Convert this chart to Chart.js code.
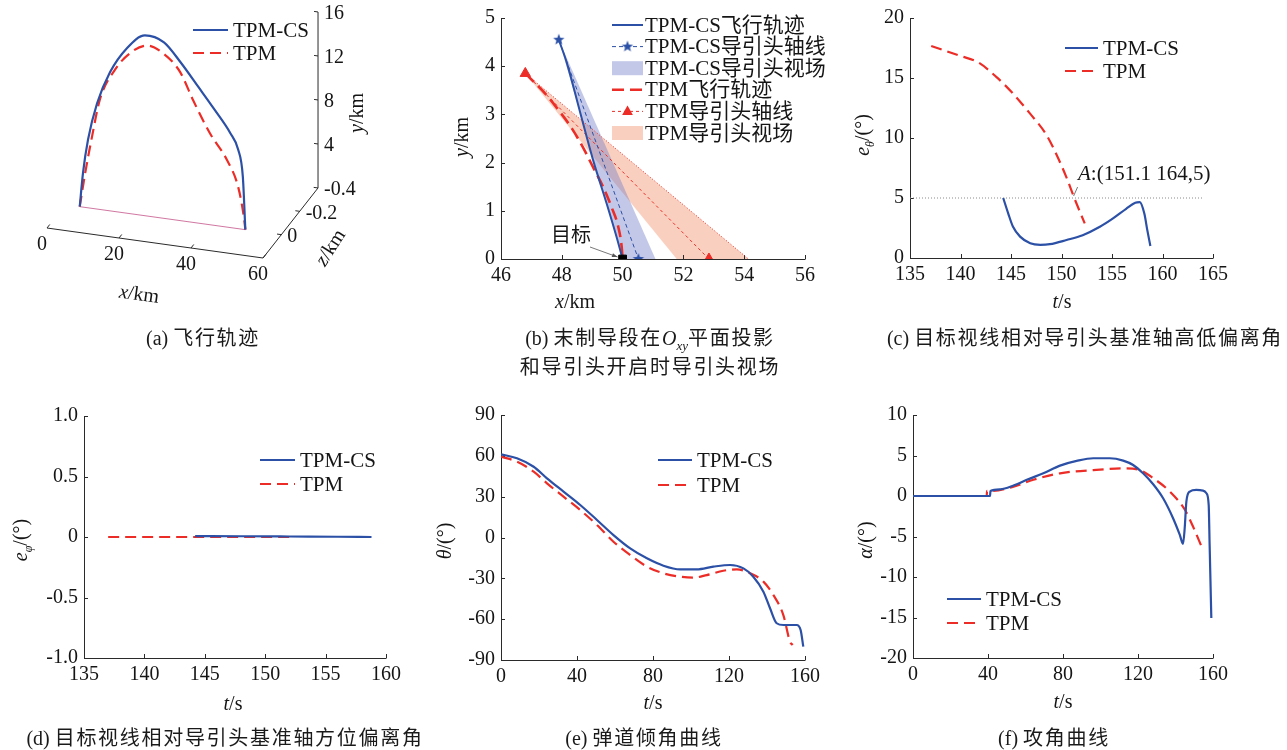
<!DOCTYPE html>
<html>
<head>
<meta charset="utf-8">
<script src="https://cdn.jsdelivr.net/npm/chart.js@4.4.0/dist/chart.umd.min.js"></script>
<style>
  body { margin: 0; background: #fff; }
  #page { position: relative; width: 1287px; height: 750px; overflow: hidden; background: #fff; }
  #page canvas { position: absolute; left: 0; top: 0; }
  .cap { position: absolute; font: 20px "Liberation Serif", "Noto Sans CJK SC", serif; letter-spacing: 1.7px;
         white-space: nowrap; transform: translate(-50%, -50%); color: #1a1a1a; line-height: 29px; text-align: center; }
  .cap .l { letter-spacing: 0; }
  .cap sub { font-size: 13px; vertical-align: -5px; letter-spacing: 0; line-height: 0; }
</style>
</head>
<body>
<div id="page">
  <canvas id="cA" width="1287" height="750"></canvas>
  <canvas id="cB" width="1287" height="750"></canvas>
  <canvas id="cC" width="1287" height="750"></canvas>
  <canvas id="cD" width="1287" height="750"></canvas>
  <canvas id="cE" width="1287" height="750"></canvas>
  <canvas id="cF" width="1287" height="750"></canvas>
  <div class="cap" style="left:203px;top:338px"><span class="l">(a) </span>飞行轨迹</div>
  <div class="cap" style="left:650px;top:353px"><span class="l">(b) </span>末制导段在<i class="l">O</i><sub><i>xy</i></sub>平面投影<br>和导引头开启时导引头视场</div>
  <div class="cap" style="left:1085px;top:338px"><span class="l">(c) </span>目标视线相对导引头基准轴高低偏离角</div>
  <div class="cap" style="left:225px;top:738px"><span class="l">(d) </span>目标视线相对导引头基准轴方位偏离角</div>
  <div class="cap" style="left:644px;top:738px"><span class="l">(e) </span>弹道倾角曲线</div>
  <div class="cap" style="left:1054px;top:738px"><span class="l">(f) </span>攻角曲线</div>
</div>
<script>
// ---- (a) flight trajectory, x/km and y/km (z = 0) ----
const trajX_CS  = [4, 4.9, 6.3, 8.8, 12.4, 17.1, 22.1, 27.4, 32, 36.9, 41.5, 45.8, 48, 49.3, 50];
const trajY_CS  = [0, 3.1, 6.2, 9.6, 12.6, 15.0, 16.4, 16.0, 14.4, 12.4, 10.5, 8.6, 7.2, 4.8, 0];
const trajX_TPM = [4, 5.5, 7.4, 9.6, 13.8, 18.0, 22.7, 27.1, 31.9, 35.5, 40.2, 44.9, 48.0, 49.6, 50];
const trajY_TPM = [0, 3.1, 6.5, 10.0, 12.9, 14.6, 15.5, 15.0, 13.5, 11.1, 8.3, 6.1, 3.8, 1.1, 0];
const ticksA_x = [0, 20, 40, 60];
const ticksA_y = [4, 8, 12, 16];
const ticksA_z = [0, -0.2, -0.4];

// ---- (b) terminal phase in Oxy plane ----
const termX_CS  = [47.9, 48.16, 48.6, 49.04, 49.48, 49.8, 50];
const termY_CS  = [4.55, 4.08, 3.05, 2.03, 1.14, 0.46, 0];
const termX_TPM = [46.8, 47.5, 47.94, 48.33, 48.71, 49.04, 49.37, 49.64, 49.86, 49.97, 50];
const termY_TPM = [3.85, 3.4, 3.05, 2.71, 2.30, 1.89, 1.48, 1.07, 0.66, 0.25, 0];
const axisX_CS  = [47.9, 50.52], axisY_CS = [4.55, 0];
const axisX_TPM = [46.8, 52.84], axisY_TPM = [3.85, 0];
const fovX_CS   = [47.9, 50.0, 51.08], fovY_CS = [4.55, 0, 0];
const fovX_TPM  = [46.8, 51.78, 54.14], fovY_TPM = [3.85, 0, 0];
const targetXY  = [50, 0];

// ---- (c) e_theta ----
const tC_CS  = [144.23, 144.73, 145.2, 145.9, 146.9, 147.9, 148.85, 150.5, 152.1, 153.8, 155.1, 156.4, 157.3, 157.75, 158.2, 158.5, 158.8];
const eC_CS  = [5.0, 3.7, 2.6, 1.78, 1.23, 1.1, 1.15, 1.5, 1.9, 2.6, 3.3, 4.1, 4.6, 4.65, 3.7, 2.3, 1.0];
const tC_TPM = [137.1, 139.95, 141.76, 143.57, 145.2, 146.87, 148.5, 149.5, 150.5, 151.3, 152.3];
const eC_TPM = [17.67, 16.85, 16.3, 15.07, 13.7, 12.05, 10.27, 8.63, 6.7, 4.93, 2.88];
const limitC = [135, 164, 5];   // dotted limit line: from t, to t, value

// ---- (d) e_phi ----
const tD_CS  = [144.2, 148, 152, 156, 158.8];
const eD_CS  = [0.008, 0.006, 0.004, 0.002, 0];
const tD_TPM = [137, 152];
const eD_TPM = [0, 0];

// ---- (e) theta ----
const tE_CS  = [0, 8.4, 17.2, 24.2, 32.9, 41.7, 50.5, 59.2, 68, 76.8, 85.5, 94.3, 103, 111.8, 120.6, 127.6, 132.8, 138.1, 141.6, 145.1, 148.6, 155.6, 157.7, 159.1];
const vE_CS  = [61.1, 58.2, 52, 43.5, 33.7, 23.9, 12.9, 1.8, -8, -15.3, -20.7, -23.4, -23.4, -21.4, -20.2, -22.7, -28.8, -39.8, -52, -63, -64.3, -64.3, -68, -80.2];
const tE_TPM = [0, 8.4, 17.2, 24.2, 32.9, 41.7, 50.5, 59.2, 68, 76.8, 85.5, 94.3, 101.3, 108.3, 117, 124.1, 131.1, 138.1, 143.4, 148.6, 152.1, 153.5];
const vE_TPM = [59.4, 55.7, 48.4, 39.8, 30, 20.2, 9.2, -3.1, -12.9, -21.4, -26.3, -28.8, -29.5, -27.6, -24.4, -23.4, -26.3, -32.4, -42.3, -57, -76.5, -79];

// ---- (f) alpha ----
const tF_CS  = [0, 41.1, 41.3, 46.5, 53.6, 60.7, 69.5, 78.4, 87.3, 96.1, 105, 112.1, 117.4, 122.7, 128.1, 133.4, 138.7, 142.3, 144, 144.9, 145.8, 147.6, 151.1, 154.7, 156.5, 157.7, 158.2, 159.1];
const vF_CS  = [0, 0, 0.63, 0.83, 1.29, 2.0, 2.8, 3.75, 4.33, 4.66, 4.66, 4.37, 3.83, 2.8, 1.45, -0.28, -2.74, -4.8, -5.9, -4.0, -0.69, 0.55, 0.75, 0.67, 0.34, -1.1, -6.0, -15.07];
const tF_TPM = [0, 39.3, 39.5, 42.9, 53.6, 64.2, 78.4, 96.1, 113.9, 121, 128.1, 137, 145, 149.4, 153.8];
const vF_TPM = [0, 0, 0.63, 0.63, 1.16, 2.0, 2.8, 3.2, 3.42, 3.2, 2.2, 0.55, -1.7, -3.8, -6.2];

const SERIF = '"Liberation Serif", "Noto Sans CJK SC", serif';
const BLUE = '#2b50a6', RED = '#ec2d27', AXIS = '#2a2a2a', INK = '#151515';
const W = 1287, H = 750, XH = 30, YW = 60;
const DASH = [11, 6];

Chart.defaults.font.family = SERIF;

function pts(xs, ys) { return xs.map((x, i) => ({ x, y: ys[i] })); }

function makeStar(color, R) {
  const c = document.createElement('canvas');
  c.width = c.height = 2 * R + 2;
  const g = c.getContext('2d');
  g.fillStyle = color;
  g.beginPath();
  for (let k = 0; k < 10; k++) {
    const r = k % 2 ? R * 0.42 : R;
    const a = -Math.PI / 2 + k * Math.PI / 5;
    g.lineTo(R + 1 + r * Math.cos(a), R + 1 + r * Math.sin(a));
  }
  g.closePath(); g.fill();
  return c;
}
const starImg = makeStar(BLUE, 6);

/** text with italic / subscript runs */
function richText(ctx, parts, x, y, rot, size, align) {
  ctx.save();
  ctx.translate(x, y); ctx.rotate(rot || 0);
  const fontOf = p => `${p.i ? 'italic ' : ''}${p.sub ? Math.round(size * 0.62) : size}px ${SERIF}`;
  let w = 0;
  parts.forEach(p => { ctx.font = fontOf(p); w += ctx.measureText(p.t).width; });
  let cx = align === 'left' ? 0 : -w / 2;
  ctx.textBaseline = 'middle'; ctx.textAlign = 'left'; ctx.fillStyle = INK;
  parts.forEach(p => {
    ctx.font = fontOf(p);
    ctx.fillText(p.t, cx, p.sub ? size * 0.32 : 0);
    cx += ctx.measureText(p.t).width;
  });
  ctx.restore();
}

function drawTriangle(ctx, x, y, r, color) {
  ctx.save(); ctx.fillStyle = color; ctx.beginPath();
  ctx.moveTo(x, y - r); ctx.lineTo(x + r * 0.9, y + r * 0.6); ctx.lineTo(x - r * 0.9, y + r * 0.6);
  ctx.closePath(); ctx.fill(); ctx.restore();
}

/** legend drawn at fixed page spots */
function drawLegend(ctx, lg) {
  lg.items.forEach((it, k) => {
    const y = lg.y + k * lg.dy;
    ctx.save();
    if (it.box) {
      ctx.fillStyle = it.box;
      ctx.fillRect(lg.x0, y - 7, lg.x1 - lg.x0, 14);
    } else {
      ctx.strokeStyle = it.color; ctx.lineWidth = it.width; ctx.setLineDash(it.dash || []);
      ctx.beginPath(); ctx.moveTo(lg.x0, y); ctx.lineTo(lg.x1, y); ctx.stroke();
    }
    const mx = (lg.x0 + lg.x1) / 2;
    if (it.marker === 'star') ctx.drawImage(starImg, mx - starImg.width / 2, y - starImg.height / 2);
    if (it.marker === 'tri') drawTriangle(ctx, mx, y, 6, it.color);
    ctx.restore();
    ctx.save();
    ctx.font = `${lg.size || 21}px ${SERIF}`; ctx.fillStyle = INK;
    ctx.textBaseline = 'middle'; ctx.textAlign = 'left';
    ctx.fillText(it.label, lg.tx, y + 1);
    ctx.restore();
  });
}

const legendPair = (x0, x1, y, dy) => ({
  x0, x1, tx: x1 + 5, y, dy,
  items: [
    { label: 'TPM-CS', color: BLUE, width: 2.2 },
    { label: 'TPM', color: RED, width: 2.2, dash: DASH }
  ]
});

/** axis lines + inward ticks, titles, legend, extras */
function decor(cfg) {
  return {
    id: 'decor',
    beforeDatasetsDraw(chart) {
      const { ctx, chartArea: a, scales: { x, y } } = chart;
      if (cfg.under) cfg.under(chart);
      ctx.save();
      ctx.strokeStyle = AXIS; ctx.lineWidth = 1;
      ctx.beginPath();
      ctx.moveTo(a.left + 0.5, a.top); ctx.lineTo(a.left + 0.5, a.bottom + 0.5); ctx.lineTo(a.right + 0.5, a.bottom + 0.5);
      x.ticks.forEach(t => {
        const px = Math.round(x.getPixelForValue(t.value)) + 0.5;
        ctx.moveTo(px, a.bottom); ctx.lineTo(px, a.bottom - 4);
      });
      y.ticks.forEach(t => {
        const py = Math.round(y.getPixelForValue(t.value)) + 0.5;
        ctx.moveTo(a.left, py); ctx.lineTo(a.left + 4, py);
      });
      ctx.stroke(); ctx.restore();
    },
    afterDatasetsDraw(chart) {
      const ctx = chart.ctx;
      if (cfg.over) cfg.over(chart);
      if (cfg.legend) drawLegend(ctx, cfg.legend);
      richText(ctx, cfg.xTitle.parts, cfg.xTitle.x, cfg.xTitle.y, 0, 20);
      richText(ctx, cfg.yTitle.parts, cfg.yTitle.x, cfg.yTitle.y, -Math.PI / 2, 20);
    }
  };
}

function lineSet(data, color, width, dash) {
  return { data, borderColor: color, borderWidth: width, borderDash: dash || [], showLine: true,
           pointRadius: 0, cubicInterpolationMode: 'monotone', fill: false };
}

function panel(id, area, xr, yr, datasets, cfg) {
  const tickFont = { family: SERIF, size: 20 };
  return new Chart(document.getElementById(id), {
    type: 'scatter',
    data: { datasets },
    options: {
      responsive: false, animation: false, devicePixelRatio: 1,
      layout: { padding: { left: area.l - YW, top: area.t, right: W - area.r, bottom: H - area.b - XH } },
      scales: {
        x: { type: 'linear', min: xr[0], max: xr[1],
             ticks: { stepSize: xr[2], font: tickFont, color: INK, padding: 5, maxRotation: 0, autoSkip: false,
                      callback: v => String(v) },
             grid: { display: false, drawTicks: false }, border: { display: false },
             afterFit: s => { s.height = XH; } },
        y: { type: 'linear', min: yr[0], max: yr[1],
             ticks: { stepSize: yr[2], font: tickFont, color: INK, padding: 6, autoSkip: false,
                      callback: cfg.yFmt || (v => String(v)) },
             grid: { display: false, drawTicks: false }, border: { display: false },
             afterFit: s => { s.width = YW; } }
      },
      plugins: { legend: { display: false }, tooltip: { enabled: false } }
    },
    plugins: [decor(cfg)]
  });
}

const tsTitle = (x, y) => ({ x, y, parts: [{ t: 't', i: true }, { t: '/s' }] });

// ---------------- (a) 3D trajectory ----------------
function proj(x, y, z) {
  return { x: 47 + 3.6 * x - 91.7 * (z - 0.2), y: 228 + 0.5 * x + 116.7 * (z - 0.2) - 11 * y };
}
const axes3d = {
  id: 'axes3d',
  beforeDatasetsDraw(chart) {
    const ctx = chart.ctx, sx = chart.scales.x, sy = chart.scales.y;
    const P = (x, y, z) => { const p = proj(x, y, z); return [sx.getPixelForValue(p.x), sy.getPixelForValue(p.y)]; };
    const seg = (a, b) => { ctx.moveTo(a[0], a[1]); ctx.lineTo(b[0], b[1]); };
    ctx.save();
    ctx.strokeStyle = AXIS; ctx.lineWidth = 1;
    ctx.beginPath();
    seg(P(0, 0, 0.2), P(60, 0, 0.2));
    seg(P(60, 0, 0.2), P(60, 0, -0.4));
    seg(P(60, 0, -0.4), P(60, 16, -0.4));
    ticksA_x.forEach(v => seg(P(v, 0, 0.2), P(v, 0, 0.17)));
    ticksA_z.forEach(v => seg(P(60, 0, v), P(58.8, 0, v)));
    ticksA_y.forEach(v => seg(P(60, v, -0.4), P(58.9, v, -0.4)));
    ctx.stroke();
    ctx.font = `20px ${SERIF}`; ctx.fillStyle = INK; ctx.textBaseline = 'middle';
    ctx.textAlign = 'center';
    ticksA_x.forEach(v => { const p = P(v, 0, 0.2); ctx.fillText(String(v), p[0] - 5, p[1] + 17); });
    ctx.textAlign = 'left';
    ticksA_y.forEach(v => { const p = P(60, v, -0.4); ctx.fillText(String(v), p[0] + 6, p[1] + 2); });
    ticksA_z.forEach(v => { const p = P(60, 0, v); ctx.fillText(v === 0 ? '0' : v.toFixed(1), p[0] + 6, p[1] + 2); });
    ctx.restore();
    richText(ctx, [{ t: 'x', i: true }, { t: '/km' }], 139, 295, 0.14, 20);
    richText(ctx, [{ t: 'y', i: true }, { t: '/km' }], 358, 113, -Math.PI / 2, 20);
    richText(ctx, [{ t: 'z', i: true }, { t: '/km' }], 331, 248, -1.0, 20);
  },
  afterDatasetsDraw(chart) {
    drawLegend(chart.ctx, legendPair(193, 228, 30, 23));
  }
};
new Chart(document.getElementById('cA'), {
  type: 'scatter',
  data: { datasets: [
    lineSet(trajX_CS.map((x, i) => proj(x, trajY_CS[i], 0)), BLUE, 2.2),
    lineSet(trajX_TPM.map((x, i) => proj(x, trajY_TPM[i], 0)), RED, 2.2, DASH),
    lineSet([proj(trajX_CS[0], 0, 0), proj(targetXY[0], 0, 0)], 'rgba(200,95,145,0.85)', 1)
  ] },
  options: {
    responsive: false, animation: false, devicePixelRatio: 1, layout: { padding: 0 },
    scales: { x: { display: false, min: 0, max: W }, y: { display: false, min: 0, max: H, reverse: true } },
    plugins: { legend: { display: false }, tooltip: { enabled: false } }
  },
  plugins: [axes3d]
});

// ---------------- (b) terminal projection ----------------
function polyFill(chart, xs, ys, color) {
  const { ctx, scales: { x, y } } = chart;
  ctx.save(); ctx.fillStyle = color; ctx.beginPath();
  xs.forEach((v, i) => ctx.lineTo(x.getPixelForValue(v), y.getPixelForValue(ys[i])));
  ctx.closePath(); ctx.fill(); ctx.restore();
}
panel('cB', { l: 501, r: 805, t: 15, b: 259 }, [46, 56, 2], [0, 5, 1], [
  { data: pts([targetXY[0]], [targetXY[1]]), pointStyle: 'rect', pointRadius: 5.5, backgroundColor: '#000', borderColor: '#000', showLine: false },
  lineSet(pts(termX_CS, termY_CS), BLUE, 2),
  Object.assign(lineSet(pts(axisX_CS, axisY_CS), BLUE, 1, [4, 3]), { pointRadius: 6, pointStyle: starImg }),
  lineSet(pts(termX_TPM, termY_TPM), RED, 2.6, [12, 6]),
  Object.assign(lineSet(pts(axisX_TPM, axisY_TPM), RED, 1, [3, 3]),
    { pointRadius: 6, pointStyle: 'triangle', backgroundColor: RED, borderColor: RED, pointBorderWidth: 1 }),
  lineSet(pts([fovX_TPM[0], fovX_TPM[2]], [fovY_TPM[0], fovY_TPM[2]]), RED, 1, [1, 2])
], {
  under(chart) {
    polyFill(chart, fovX_TPM, fovY_TPM, 'rgba(242,150,112,0.45)');
    polyFill(chart, fovX_CS, fovY_CS, 'rgba(115,125,200,0.42)');
  },
  over(chart) {
    const { ctx, scales: { x, y } } = chart;
    const tx = x.getPixelForValue(targetXY[0]) - 5, ty = y.getPixelForValue(targetXY[1]) - 2;
    ctx.save();
    ctx.strokeStyle = '#555'; ctx.fillStyle = '#555'; ctx.lineWidth = 0.8;
    ctx.beginPath(); ctx.moveTo(590, 247); ctx.lineTo(tx, ty); ctx.stroke();
    const ang = Math.atan2(ty - 247, tx - 590);
    ctx.beginPath(); ctx.moveTo(tx, ty);
    ctx.lineTo(tx - 6 * Math.cos(ang - 0.35), ty - 6 * Math.sin(ang - 0.35));
    ctx.lineTo(tx - 6 * Math.cos(ang + 0.35), ty - 6 * Math.sin(ang + 0.35));
    ctx.closePath(); ctx.fill();
    ctx.font = `20px ${SERIF}`; ctx.fillStyle = INK; ctx.textAlign = 'center'; ctx.textBaseline = 'middle';
    ctx.fillText('目标', 571, 237);
    ctx.restore();
  },
  legend: {
    x0: 612, x1: 643, tx: 645, y: 25, dy: 21.6, size: 21,
    items: [
      { label: 'TPM-CS飞行轨迹', color: BLUE, width: 2 },
      { label: 'TPM-CS导引头轴线', color: BLUE, width: 1, dash: [4, 3], marker: 'star' },
      { label: 'TPM-CS导引头视场', box: 'rgba(115,125,200,0.42)' },
      { label: 'TPM飞行轨迹', color: RED, width: 2.6, dash: [12, 6] },
      { label: 'TPM导引头轴线', color: RED, width: 1, dash: [3, 3], marker: 'tri' },
      { label: 'TPM导引头视场', box: 'rgba(242,150,112,0.45)' }
    ]
  },
  xTitle: { x: 575, y: 303, parts: [{ t: 'x', i: true }, { t: '/km' }] },
  yTitle: { x: 463, y: 137, parts: [{ t: 'y', i: true }, { t: '/km' }] }
});

// ---------------- (c) e_theta ----------------
panel('cC', { l: 910, r: 1213, t: 15, b: 258 }, [135, 165, 5], [0, 20, 5], [
  lineSet(pts(tC_CS, eC_CS), BLUE, 2.2),
  lineSet(pts(tC_TPM, eC_TPM), RED, 2.2, DASH),
  lineSet(pts([limitC[0], limitC[1]], [limitC[2], limitC[2]]), '#8a8a8a', 1, [1, 2])
], {
  over(chart) {
    const { ctx, scales: { x, y } } = chart;
    const ax = x.getPixelForValue(151.1), ay = y.getPixelForValue(5);
    ctx.save(); ctx.strokeStyle = '#555'; ctx.lineWidth = 0.8;
    ctx.beginPath(); ctx.moveTo(ax + 5, ay - 11); ctx.lineTo(ax + 1, ay - 2); ctx.stroke(); ctx.restore();
    richText(ctx, [{ t: 'A', i: true }, { t: ':(151.1 164,5)' }], 1078, 174, 0, 21, 'left');
  },
  legend: legendPair(1065, 1098, 48, 23),
  xTitle: tsTitle(1062, 303),
  yTitle: { x: 864, y: 135, parts: [{ t: 'e', i: true }, { t: 'θ', i: true, sub: true }, { t: '/(°)' }] }
});

// ---------------- (d) e_phi ----------------
panel('cD', { l: 84, r: 386, t: 416, b: 658 }, [135, 160, 5], [-1, 1, 0.5], [
  lineSet(pts(tD_CS, eD_CS), BLUE, 2.2),
  lineSet(pts(tD_TPM, eD_TPM), RED, 2.2, DASH)
], {
  yFmt: v => (v === 0 ? '0' : v.toFixed(1)),
  legend: legendPair(260, 295, 460, 24),
  xTitle: tsTitle(233, 705),
  yTitle: { x: 22, y: 540, parts: [{ t: 'e', i: true }, { t: 'φ', i: true, sub: true }, { t: '/(°)' }] }
});

// ---------------- (e) theta ----------------
panel('cE', { l: 501, r: 805, t: 415, b: 660 }, [0, 160, 40], [-90, 90, 30], [
  lineSet(pts(tE_CS, vE_CS), BLUE, 2.2),
  lineSet(pts(tE_TPM, vE_TPM), RED, 2.2, DASH)
], {
  legend: legendPair(658, 692, 460, 25),
  xTitle: tsTitle(653, 704),
  yTitle: { x: 446, y: 541, parts: [{ t: 'θ', i: true }, { t: '/(°)' }] }
});

// ---------------- (f) alpha ----------------
panel('cF', { l: 913, r: 1213, t: 415, b: 658 }, [0, 160, 40], [-20, 10, 5], [
  lineSet(pts(tF_CS, vF_CS), BLUE, 2.2),
  lineSet(pts(tF_TPM, vF_TPM), RED, 2.2, DASH)
], {
  legend: legendPair(947, 981, 599, 24),
  xTitle: tsTitle(1063, 703),
  yTitle: { x: 867, y: 540, parts: [{ t: 'α', i: true }, { t: '/(°)' }] }
});
</script>
</body>
</html>
